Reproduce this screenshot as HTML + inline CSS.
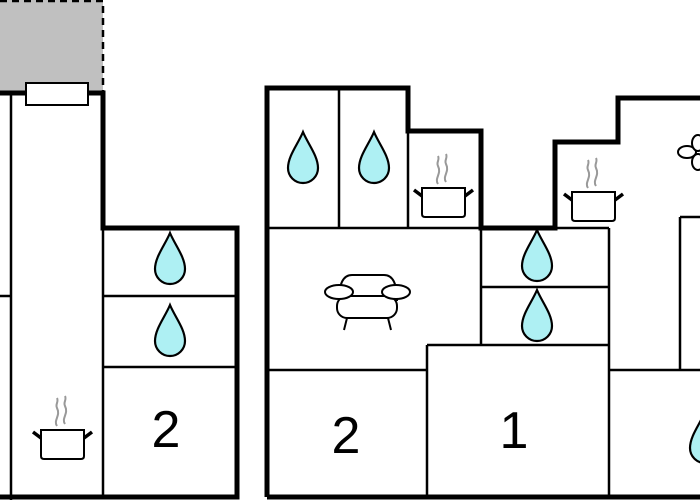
<!DOCTYPE html>
<html><head><style>html,body{margin:0;padding:0;background:#fff;width:700px;height:500px;overflow:hidden}</style></head>
<body>
<svg width="700" height="500" viewBox="0 0 700 500" xmlns="http://www.w3.org/2000/svg">
<rect x="0" y="0" width="103" height="93" fill="#c0c0c0"/>
<path d="M0,1 H103 V93" fill="none" stroke="#000" stroke-width="2.5" stroke-dasharray="7,5"/>
<g stroke="#000" fill="none">
<path d="M0,93 H103 V228 H237 V497 H0" stroke-width="5"/>
<path d="M11,93 V500 M0,296 H11 M103,228 V497 M103,296 H237 M103,367 H237" stroke-width="2.5"/>
<path d="M267,497 V88 H408 V131 H481 V228 H555 V142 H618 V98 H700" stroke-width="5"/>
<path d="M267,497 H700" stroke-width="5"/>
<path d="M339,88 V228 M408,131 V228 M267,228 H481 M481,228 V345 M481,287 H609 M609,228 V497 M481,228 H609 M427,345 H609 M427,345 V497 M267,370 H427 M609,370 H700 M680,217 V370 M680,217 H700" stroke-width="2.5"/>
</g>
<rect x="26" y="83" width="62" height="22" fill="#fff" stroke="#000" stroke-width="2"/>
<g fill="#aef0f3" stroke="#000" stroke-width="2.2">
<path transform="translate(170,233)" d="M0,0 C-5,12 -15,24 -15,36 A15,15 0 0 0 15,36 C15,24 5,12 0,0Z"/>
<path transform="translate(170,305)" d="M0,0 C-5,12 -15,24 -15,36 A15,15 0 0 0 15,36 C15,24 5,12 0,0Z"/>
<path transform="translate(303,132)" d="M0,0 C-5,12 -15,24 -15,36 A15,15 0 0 0 15,36 C15,24 5,12 0,0Z"/>
<path transform="translate(374,132)" d="M0,0 C-5,12 -15,24 -15,36 A15,15 0 0 0 15,36 C15,24 5,12 0,0Z"/>
<path transform="translate(537,230)" d="M0,0 C-5,12 -15,24 -15,36 A15,15 0 0 0 15,36 C15,24 5,12 0,0Z"/>
<path transform="translate(537,290)" d="M0,0 C-5,12 -15,24 -15,36 A15,15 0 0 0 15,36 C15,24 5,12 0,0Z"/>
<path transform="translate(705,412)" d="M0,0 C-5,12 -15,24 -15,36 A15,15 0 0 0 15,36 C15,24 5,12 0,0Z"/>
</g>
<g fill="#fff">
<g transform="translate(63,430)">
<path d="M-22,0 H21 V26 Q21,29 18,29 H-19 Q-22,29 -22,26Z" stroke="#000" stroke-width="2"/>
<path d="M-22,8 L-30,2 M21,8 L29,2" stroke="#000" stroke-width="3.5"/>
<path d="M-6,-4 C-10,-10 -2,-14 -6,-22 C-8,-26 -4,-28 -6,-32 M2,-6 C-2,-12 6,-16 2,-24 C0,-28 4,-30 2,-34" stroke="#999" stroke-width="2" fill="none"/>
</g>
<g transform="translate(444,188)">
<path d="M-22,0 H21 V26 Q21,29 18,29 H-19 Q-22,29 -22,26Z" stroke="#000" stroke-width="2"/>
<path d="M-22,8 L-30,2 M21,8 L29,2" stroke="#000" stroke-width="3.5"/>
<path d="M-6,-4 C-10,-10 -2,-14 -6,-22 C-8,-26 -4,-28 -6,-32 M2,-6 C-2,-12 6,-16 2,-24 C0,-28 4,-30 2,-34" stroke="#999" stroke-width="2" fill="none"/>
</g>
<g transform="translate(594,192)">
<path d="M-22,0 H21 V26 Q21,29 18,29 H-19 Q-22,29 -22,26Z" stroke="#000" stroke-width="2"/>
<path d="M-22,8 L-30,2 M21,8 L29,2" stroke="#000" stroke-width="3.5"/>
<path d="M-6,-4 C-10,-10 -2,-14 -6,-22 C-8,-26 -4,-28 -6,-32 M2,-6 C-2,-12 6,-16 2,-24 C0,-28 4,-30 2,-34" stroke="#999" stroke-width="2" fill="none"/>
</g>
</g>
<g fill="#fff" stroke="#000" stroke-width="2">
<path d="M339,300 Q339,275 352,275 H384 Q397,275 397,300 Z"/>
<rect x="337" y="296" width="60" height="22" rx="10"/>
<path d="M347,318 L344,330 M388,318 L391,330"/>
<ellipse cx="339" cy="292" rx="14" ry="7"/>
<ellipse cx="396" cy="292" rx="14" ry="7"/>
</g>
<g fill="#fff" stroke="#000" stroke-width="2">
<ellipse cx="687" cy="152" rx="9" ry="6"/>
<ellipse cx="698" cy="143" rx="6" ry="8"/>
<ellipse cx="698" cy="162" rx="6" ry="8"/>
</g>
<g font-family="Liberation Sans, sans-serif" font-size="52" text-anchor="middle" fill="#000">
<text x="166" y="447">2</text>
<text x="346" y="453">2</text>
<text x="514" y="448">1</text>
</g>
</svg>
</body></html>
